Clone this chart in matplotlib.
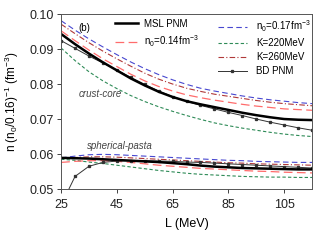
import numpy as np
import matplotlib
matplotlib.use('Agg')
import matplotlib.pyplot as plt
from matplotlib.lines import Line2D

plt.rcParams['font.family'] = ['Liberation Sans', 'DejaVu Sans']
plt.rcParams['mathtext.fontset'] = 'custom'
plt.rcParams['mathtext.rm'] = 'Liberation Sans'
plt.rcParams['mathtext.it'] = 'Liberation Sans:italic'

# L (MeV), shared grid
L = np.arange(25, 116, 5)

# crust-core transition densities (upper group)
msl_cc = [0.0944, 0.0915, 0.0888, 0.0863, 0.0840, 0.0817, 0.0797, 0.0779, 0.0764, 0.0752,
          0.0743, 0.0735, 0.0727, 0.0719, 0.0712, 0.0706, 0.0701, 0.0699, 0.0698]
n014_cc = [0.0953, 0.0925, 0.0898, 0.0873, 0.0851, 0.0829, 0.0810, 0.0794, 0.0781, 0.0770,
           0.0762, 0.0755, 0.0749, 0.0743, 0.0738, 0.0734, 0.0730, 0.0728, 0.0726]
n017_cc = [0.0982, 0.0955, 0.0930, 0.0907, 0.0885, 0.0864, 0.0845, 0.0828, 0.0813, 0.0800,
           0.0789, 0.0781, 0.0774, 0.0767, 0.0761, 0.0756, 0.0752, 0.0748, 0.0745]
k220_cc = [0.0904, 0.0868, 0.0836, 0.0810, 0.0788, 0.0768, 0.0751, 0.0736, 0.0723, 0.0711,
           0.0700, 0.0690, 0.0682, 0.0675, 0.0669, 0.0663, 0.0658, 0.0654, 0.0651]
k260_cc = [0.0972, 0.0945, 0.0919, 0.0895, 0.0873, 0.0852, 0.0832, 0.0815, 0.0801, 0.0789,
           0.0780, 0.0772, 0.0766, 0.0760, 0.0754, 0.0749, 0.0745, 0.0742, 0.0739]
bd_cc = [0.0925, 0.0903, 0.0881, 0.0861, 0.0841, 0.0820, 0.0800, 0.0781, 0.0765, 0.0752,
         0.0740, 0.0730, 0.0720, 0.0711, 0.0701, 0.0692, 0.0684, 0.0676, 0.0669]

# spherical-pasta transition densities (lower group)
msl_sp = [0.0590, 0.0589, 0.0588, 0.0586, 0.0584, 0.0582, 0.0580, 0.0578, 0.0575, 0.0572,
          0.0568, 0.0565, 0.0563, 0.0561, 0.0560, 0.0559, 0.0558, 0.0557, 0.0557]
n014_sp = [0.0577, 0.0580, 0.0582, 0.0582, 0.0580, 0.0577, 0.0573, 0.0569, 0.0566, 0.0563,
           0.0560, 0.0558, 0.0556, 0.0554, 0.0552, 0.0551, 0.0549, 0.0548, 0.0547]
n017_sp = [0.0590, 0.0595, 0.0599, 0.0600, 0.0599, 0.0597, 0.0595, 0.0593, 0.0591, 0.0589,
           0.0587, 0.0585, 0.0583, 0.0582, 0.0580, 0.0579, 0.0578, 0.0577, 0.0577]
k220_sp = [0.0586, 0.0583, 0.0578, 0.0574, 0.0569, 0.0564, 0.0559, 0.0554, 0.0550, 0.0546,
           0.0543, 0.0541, 0.0539, 0.0537, 0.0536, 0.0535, 0.0535, 0.0534, 0.0534]
k260_sp = [0.0588, 0.0591, 0.0593, 0.0593, 0.0592, 0.0590, 0.0588, 0.0586, 0.0584, 0.0582,
           0.0580, 0.0578, 0.0576, 0.0575, 0.0573, 0.0572, 0.0571, 0.0570, 0.0569]
bd_sp = [0.0455, 0.0537, 0.0566, 0.0577, 0.0581, 0.0582, 0.0582, 0.0581, 0.0580, 0.0578,
         0.0577, 0.0575, 0.0573, 0.0571, 0.0569, 0.0567, 0.0565, 0.0563, 0.0561]

# styles
s_msl = dict(color='black', lw=1.8, ls='-')
s_n014 = dict(color='#ff5c5c', lw=0.9, ls=(0, (7, 3.5)), alpha=0.9)
s_n017 = dict(color='#4848d0', lw=0.8, ls=(0, (5, 3)))
s_k220 = dict(color='#2e8b57', lw=0.8, ls=(0, (3, 2)))
s_k260 = dict(color='#b03838', lw=0.8, ls=(0, (5, 2, 1, 2)))
s_bd = dict(color='#333333', lw=0.7, ls='-', marker='s', ms=1.4)

fig = plt.figure(figsize=(3.25, 2.4), dpi=100)
ax = fig.add_axes([0.188, 0.211, 0.772, 0.729])

for y, s in [(k220_cc, s_k220), (n017_cc, s_n017), (k260_cc, s_k260),
             (n014_cc, s_n014), (bd_cc, s_bd), (msl_cc, s_msl),
             (k220_sp, s_k220), (n017_sp, s_n017), (k260_sp, s_k260),
             (n014_sp, s_n014), (bd_sp, s_bd), (msl_sp, s_msl)]:
    ax.plot(L, y, **s)

ax.set_xlim(25, 115)
ax.set_ylim(0.05, 0.10)
ax.set_xticks([25, 45, 65, 85, 105])
ax.set_yticks([0.05, 0.06, 0.07, 0.08, 0.09, 0.10])
ax.yaxis.set_major_formatter(plt.FormatStrFormatter('%.2f'))
ax.tick_params(direction='out', length=3, width=0.6, labelsize=9, colors='#222222', pad=2)
ax.tick_params(axis='x', pad=4)
ax.tick_params(top=False, right=False)
for sp in ax.spines.values():
    sp.set_color('#555555')
    sp.set_linewidth(0.7)

ax.set_xlabel('L (MeV)', fontsize=9, labelpad=5)
ax.set_ylabel(r'n (n$_0$/0.16)$^{-1}$ (fm$^{-3}$)', fontsize=8.5, labelpad=6)

ax.text(0.092, 0.925, '(b)', transform=ax.transAxes, fontsize=7, ha='center', va='center')
ax.text(0.155, 0.545, 'crust-core', transform=ax.transAxes, fontsize=7,
        style='italic', color='#444444', ha='center', va='center')
ax.text(0.235, 0.25, 'spherical-pasta', transform=ax.transAxes, fontsize=7,
        style='italic', color='#444444', ha='center', va='center')

# legends: two separate blocks
h1 = [Line2D([], [], **s_msl), Line2D([], [], **s_n014)]
leg1 = ax.legend(h1, ['MSL PNM', r'n$_0$=0.14fm$^{-3}$'], loc='upper left',
                 bbox_to_anchor=(0.215, 0.975), frameon=False, fontsize=7,
                 borderpad=0, borderaxespad=0,
                 handlelength=2.4, handletextpad=0.6, labelspacing=0.45)
ax.add_artist(leg1)
h2 = [Line2D([], [], **s_n017), Line2D([], [], **s_k220),
      Line2D([], [], **s_k260), Line2D([], [], **s_bd)]
ax.legend(h2, [r'n$_0$=0.17fm$^{-3}$', 'K=220MeV', 'K=260MeV', 'BD PNM'],
          loc='upper left', bbox_to_anchor=(0.625, 0.975), frameon=False, fontsize=7,
          borderpad=0, borderaxespad=0,
          handlelength=3.0, handletextpad=0.9, labelspacing=0.4)

fig.savefig('out.png', dpi=100)
